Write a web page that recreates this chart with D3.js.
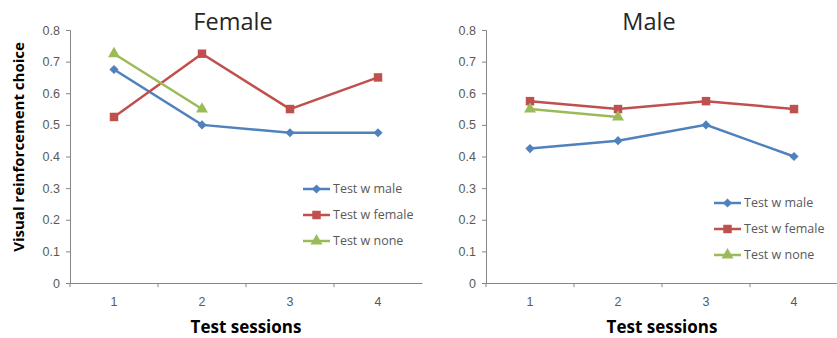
<!DOCTYPE html>
<html lang="en">
<head>
<meta charset="utf-8" />
<title>Visual reinforcement choice</title>
<style>
  body { margin: 0; background: #fff; }
  svg { display: block; font-family: "Open Sans", "Noto Sans", sans-serif; }
  .tick text { fill: #595959; font-size: 12.5px; }
  .domain, .tick line { stroke: #868686; }
</style>
</head>
<body>
<svg width="837" height="338"></svg>
<script src="https://cdnjs.cloudflare.com/ajax/libs/d3/7.8.5/d3.min.js"></script>
<script>
var sessions = ["1", "2", "3", "4"];
var yTicks = [0, 0.1, 0.2, 0.3, 0.4, 0.5, 0.6, 0.7, 0.8];
var seriesNames = ["Test w male", "Test w female", "Test w none"];

// Female panel
var femaleMale = [0.675, 0.5, 0.475, 0.475];
var femaleFemale = [0.525, 0.725, 0.55, 0.65];
var femaleNone = [0.725, 0.55];

// Male panel
var maleMale = [0.425, 0.45, 0.5, 0.4];
var maleFemale = [0.575, 0.55, 0.575, 0.55];
var maleNone = [0.55, 0.525];

var colors = ["#4F81BD", "#C0504D", "#9BBB59"];
var symbols = [d3.symbolSquare, d3.symbolSquare, d3.symbolTriangle];
var symSizes = [42, 72, 62];
var symRotate = [45, 0, 0];

var panels = [
  {title: "Female", left: 70, right: 422, legendX: 303, legendY: 189, yLabel: true,
   series: [femaleMale, femaleFemale, femaleNone]},
  {title: "Male", left: 486, right: 838, legendX: 714, legendY: 203, yLabel: false,
   series: [maleMale, maleFemale, maleNone]}
];

var svg = d3.select("svg"),
    plotTop = 30, plotBottom = 283;

var y = d3.scaleLinear().domain([0, 0.8]).range([plotBottom, plotTop]);

panels.forEach(function(p) {
  var x = d3.scaleBand().domain(sessions).range([p.left, p.right]);
  var g = svg.append("g");

  // y axis
  g.append("g")
      .attr("transform", "translate(" + p.left + ",0)")
      .call(d3.axisLeft(y).tickValues(yTicks).tickSize(4).tickPadding(6)
        .tickFormat(function(d) { return d === 0 ? "0" : d3.format(".1f")(d); }));

  // x axis, ticks at band boundaries
  var xa = g.append("g")
      .attr("transform", "translate(0," + plotBottom + ")")
      .call(d3.axisBottom(x).tickSize(0));
  xa.selectAll(".tick text").attr("dy", "0.35em").attr("y", 19);
  xa.selectAll(".boundary")
    .data(sessions.slice(1))
    .enter().append("line")
      .attr("x1", function(d) { return x(d); })
      .attr("x2", function(d) { return x(d); })
      .attr("y1", 0).attr("y2", 4)
      .attr("stroke", "#868686");
  xa.append("line")
      .attr("x1", p.left).attr("x2", p.left)
      .attr("y1", 0).attr("y2", 4)
      .attr("stroke", "#868686");

  // title
  g.append("text")
      .attr("x", (p.left + p.right) / 2 - 13)
      .attr("y", 30)
      .attr("text-anchor", "middle")
      .style("font-size", "23.5px")
      .style("fill", "#262626")
      .text(p.title);

  // x axis title
  g.append("text")
      .attr("x", (p.left + p.right) / 2)
      .attr("y", 333)
      .attr("text-anchor", "middle")
      .style("font-size", "17px")
      .style("font-weight", "bold")
      .style("fill", "#000")
      .text("Test sessions");

  if (p.yLabel) {
    g.append("text")
        .attr("transform", "translate(24,147) rotate(-90)")
        .attr("text-anchor", "middle")
        .style("font-size", "15px")
        .style("font-weight", "bold")
        .style("fill", "#000")
        .text("Visual reinforcement choice");
  }

  var line = d3.line()
      .x(function(d, i) { return x(sessions[i]) + x.bandwidth() / 2; })
      .y(function(d) { return y(d); });

  p.series.forEach(function(vals, s) {
    g.append("path")
        .datum(vals)
        .attr("d", line)
        .attr("fill", "none")
        .attr("stroke", colors[s])
        .attr("stroke-width", 2.5);
    g.selectAll(".m" + s)
      .data(vals)
      .enter().append("path")
        .attr("transform", function(d, i) {
          return "translate(" + (x(sessions[i]) + x.bandwidth() / 2) + "," + y(d) + ") rotate(" + symRotate[s] + ")";
        })
        .attr("d", d3.symbol().type(symbols[s]).size(symSizes[s]))
        .attr("fill", colors[s]);
  });

  // legend
  var leg = g.selectAll(".leg")
    .data(seriesNames)
    .enter().append("g")
      .attr("transform", function(d, i) { return "translate(" + p.legendX + "," + (p.legendY + i * 26) + ")"; });
  leg.append("line")
      .attr("x1", 0).attr("x2", 27)
      .attr("stroke", function(d, i) { return colors[i]; })
      .attr("stroke-width", 2.5);
  leg.append("path")
      .attr("transform", function(d, i) { return "translate(13.5,0) rotate(" + symRotate[i] + ")"; })
      .attr("d", function(d, i) { return d3.symbol().type(symbols[i]).size(symSizes[i])(); })
      .attr("fill", function(d, i) { return colors[i]; });
  leg.append("text")
      .attr("x", 30)
      .attr("dy", "0.35em")
      .style("font-size", "12.5px")
      .style("fill", "#595959")
      .text(function(d) { return d; });
});
</script>
</body>
</html>
